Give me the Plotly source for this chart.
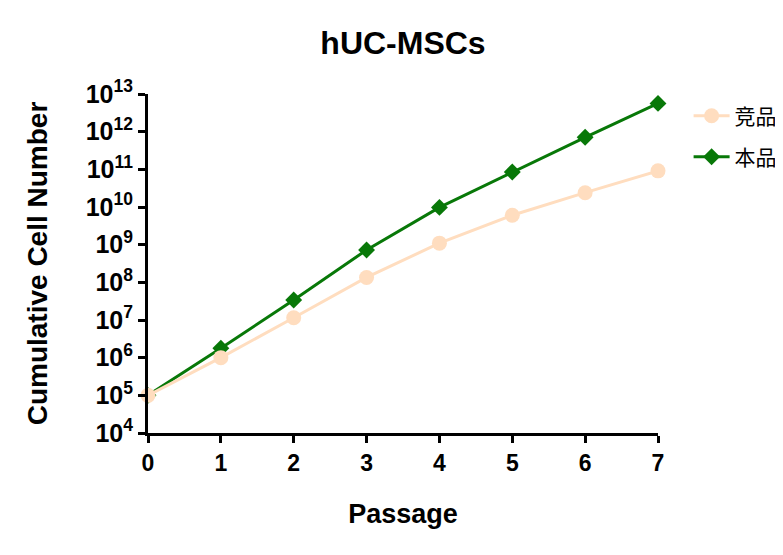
import plotly.graph_objects as go

# values (log10 of cumulative cell number)
passage = [0, 1, 2, 3, 4, 5, 6, 7]
competitor_log = [5.0, 6.0, 7.06, 8.13, 9.04, 9.78, 10.38, 10.96]
ours_log = [5.0, 6.25, 7.53, 8.86, 9.99, 10.93, 11.85, 12.75]
series_names = ["竞品", "本品"]
y_exponents = list(range(4, 14))

competitor = [10 ** v for v in competitor_log]
ours = [10 ** v for v in ours_log]

FONT = "Liberation Sans, Arial, sans-serif"
CJK = "Noto Sans CJK SC, sans-serif"
GREEN = "#087808"
PEACH = "#FFDDBF"

# the page body adds an 8px offset, so the figure is 8px smaller and margins shifted
W, H = 775, 547

fig = go.Figure()

fig.add_trace(go.Scatter(
    x=passage, y=ours, name=series_names[1], mode="lines+markers",
    line=dict(color=GREEN, width=3),
    marker=dict(symbol="diamond", size=13, color=GREEN),
    cliponaxis=False, legend="legend2",
))
fig.add_trace(go.Scatter(
    x=passage, y=competitor, name=series_names[0], mode="lines+markers",
    line=dict(color=PEACH, width=3),
    marker=dict(symbol="circle", size=15, color=PEACH),
    cliponaxis=False, legend="legend",
))

legend_style = dict(x=1.06, xanchor="left", yanchor="middle", itemwidth=36,
                    font=dict(family=CJK, size=21, color="black"),
                    bgcolor="rgba(0,0,0,0)")

fig.update_layout(
    width=W, height=H,
    margin=dict(l=140, r=W - 650, t=86, b=H - 425, autoexpand=False),
    plot_bgcolor="white", paper_bgcolor="white",
    title=dict(text="<b>hUC-MSCs</b>", x=(140 + 650) / 2 / W, xanchor="center",
               y=1 - 35 / H, yanchor="middle",
               font=dict(family=FONT, size=32, color="black")),
    showlegend=True,
    legend=dict(y=0.935, **legend_style),
    legend2=dict(y=0.814, **legend_style),
)

fig.update_xaxes(
    range=[0, 7], tickvals=passage, ticktext=[f"<b>{p}</b>" for p in passage],
    showline=True, linecolor="black", linewidth=3, showgrid=False, zeroline=False,
    ticks="outside", ticklen=7, tickwidth=3, tickcolor="black",
    tickfont=dict(family=FONT, size=23, color="black"), automargin=False,
    title=dict(text="<b>Passage</b>", font=dict(family=FONT, size=27, color="black"), standoff=30),
)

fig.update_yaxes(
    type="log", range=[4, 13],
    tickvals=[10 ** e for e in y_exponents],
    ticktext=[f"<b>10<sup>{e}</sup></b>" for e in y_exponents],
    showline=True, linecolor="black", linewidth=3, showgrid=False, zeroline=False,
    ticks="outside", ticklen=7, tickwidth=3, tickcolor="black",
    tickfont=dict(family=FONT, size=25, color="black"), automargin=False,
    title=dict(text="<b>Cumulative Cell Number</b>", font=dict(family=FONT, size=28, color="black"), standoff=30),
)

fig.write_html("out.html")
